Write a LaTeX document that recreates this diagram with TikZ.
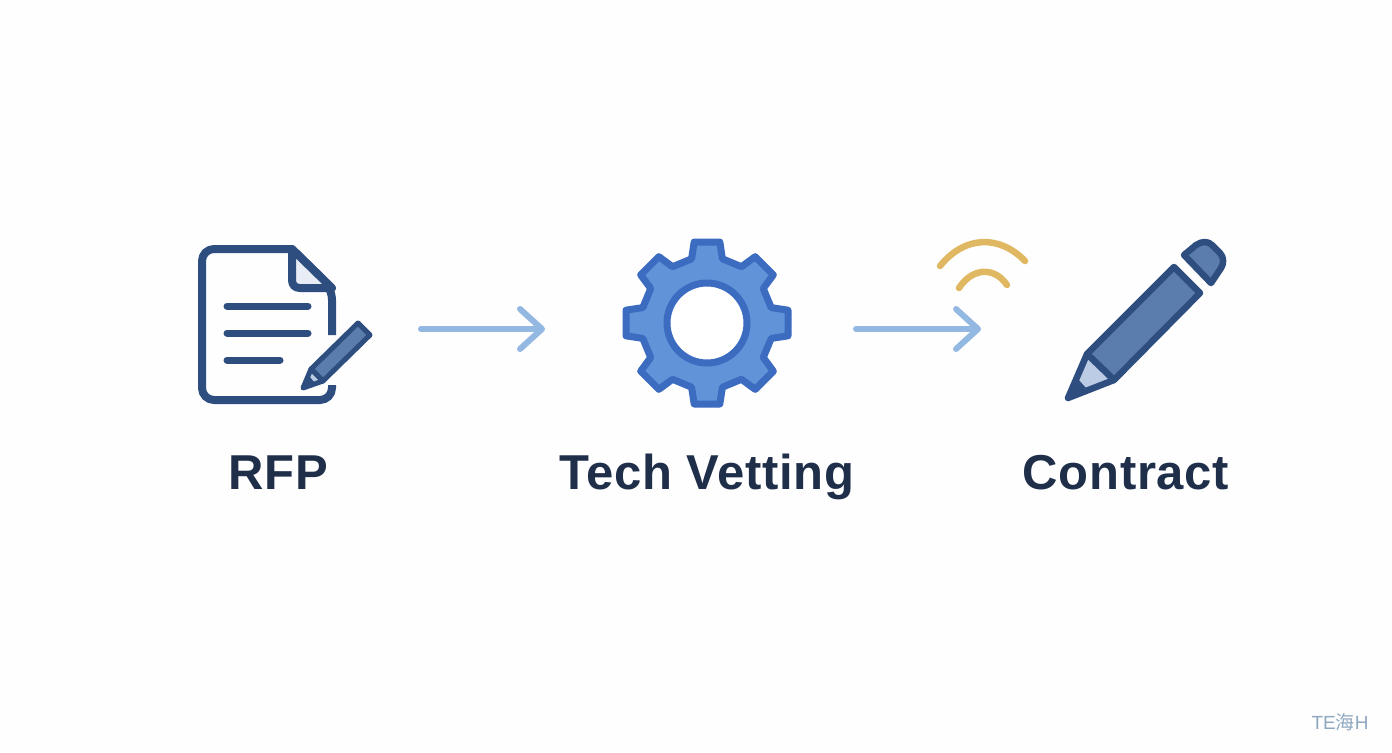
\documentclass[tikz,border=0pt]{standalone}
\usepackage{fontspec}
\setmainfont[LetterSpace=1.5]{Liberation Sans}
\newfontfamily\cjkmark{Noto Sans CJK SC}
\newfontfamily\markfont{Liberation Sans}
\usetikzlibrary{arrows.meta}
\definecolor{inkdark}{HTML}{1F2F4A}
\definecolor{pennavy}{HTML}{2F4E80}
\definecolor{penfill}{HTML}{5B7DAE}
\definecolor{penlight}{HTML}{BBCCE4}
\definecolor{foldgrey}{HTML}{E8ECF4}
\definecolor{gearline}{HTML}{3B6CC0}
\definecolor{gearfill}{HTML}{6193D9}
\definecolor{arrowblue}{HTML}{93B8E2}
\definecolor{wavegold}{HTML}{E0B862}
\definecolor{markgrey}{HTML}{8FA8C0}
\tikzset{
	label text/.style={font=\fontsize{24.5}{28}\selectfont\bfseries,text=inkdark,anchor=base,inner sep=0pt},
	flow arrow/.style={line width=3pt,draw=arrowblue,line cap=round,-{Straight Barb[length=11pt,width=20pt,line width=3pt,round]}},
	wave/.style={line width=3.25pt,draw=wavegold,line cap=round},
	doc line/.style={line width=3.5pt,draw=pennavy,line cap=round},
	pen part/.style={draw=pennavy,line join=round}
}
\begin{document}
\begin{tikzpicture}[x=0.5pt,y=-0.5pt]
	\fill [white!99!blue!40!white] (0,0) rectangle (1392,752);
	\useasboundingbox (0,0) rectangle (1392,752);
	% document
	\draw [pen part,line width=4pt,rounded corners=6pt] (332,335) -- (332,288) [sharp corners] -- (292,249) [rounded corners=6pt] -- (202,249) -- (202,400) -- (332,400) -- (332,385);
	\draw [pen part,line width=4pt,fill=foldgrey] (292,249) -- (332,288) -- (300,288) .. controls (295,288) and (292,285) .. (292,280) -- cycle;
	\draw [doc line] (227,306) -- (308,306);
	\draw [doc line] (227,333) -- (308,333);
	\draw [doc line] (227,360) -- (280,360);
	% small pencil
	\draw [pen part,line width=2.5pt,fill=penfill] (311,369) -- (358,323) -- (370,335) -- (323,381) -- cycle;
	\draw [pen part,line width=2.5pt,fill=penlight] (311,369) -- (323,381) -- (303,388) -- cycle;
	\fill [pennavy] (303,388) -- (309,376) -- (315,383) -- cycle;
	% gear
	\draw [line width=3.5pt,draw=gearline,fill=gearfill,line join=round,shift={(707,323)}]
		(-13.5:66)
		\foreach \a in {0,45,...,315} {
			-- (\a-13.5:66) -- (\a-9:82) -- (\a+9:82) -- (\a+13.5:66)
		} -- cycle;
	\draw [line width=3.5pt,draw=gearline,fill=white] (707,323) circle (40);
	% big pencil
	\draw [pen part,line width=3.25pt,fill=penfill] (1087,354) -- (1174,267) -- (1200,293) -- (1114,380) -- cycle;
	\draw [pen part,line width=3.25pt,fill=penlight] (1087,354) -- (1114,380) -- (1068,398) -- cycle;
	\fill [pennavy] (1068,398) -- (1077,378) -- (1086,388) -- cycle;
	\draw [pen part,line width=3.25pt,fill=penfill] (1184,255) -- (1196,245) .. controls (1202,241) and (1208,241) .. (1212,245) -- (1220,253) .. controls (1224,257) and (1224,264) .. (1221,268) -- (1211,283) -- cycle;
	% arrows
	\coordinate (rfpOut) at (421,329);
	\coordinate (gearIn) at (545,329);
	\coordinate (gearOut) at (856,329);
	\coordinate (penIn) at (981,329);
	\draw [flow arrow] (rfpOut) -- (gearIn);
	\draw [flow arrow] (gearOut) -- (penIn);
	% waves
	\coordinate (waveOuterA) at (940,266);
	\coordinate (waveOuterB) at (1025,261);
	\coordinate (waveInnerA) at (959,288);
	\coordinate (waveInnerB) at (1007,285);
	\draw [wave] (waveOuterA) .. controls (965,235) and (1000,235) .. (waveOuterB);
	\draw [wave] (waveInnerA) .. controls (972,268) and (994,266) .. (waveInnerB);
	% labels
	\node [label text] (rfp) at (278,489) {RFP};
	\node [label text] (vetting) at (707,489) {Tech Vetting};
	\node [label text] (contract) at (1126,489) {Contract};
	\node [anchor=base east,inner sep=0pt,font=\fontsize{9.5}{10}\selectfont\markfont,text=markgrey] (mark) at (1369,729) {TE{\cjkmark 海}H};
\end{tikzpicture}
\end{document}
